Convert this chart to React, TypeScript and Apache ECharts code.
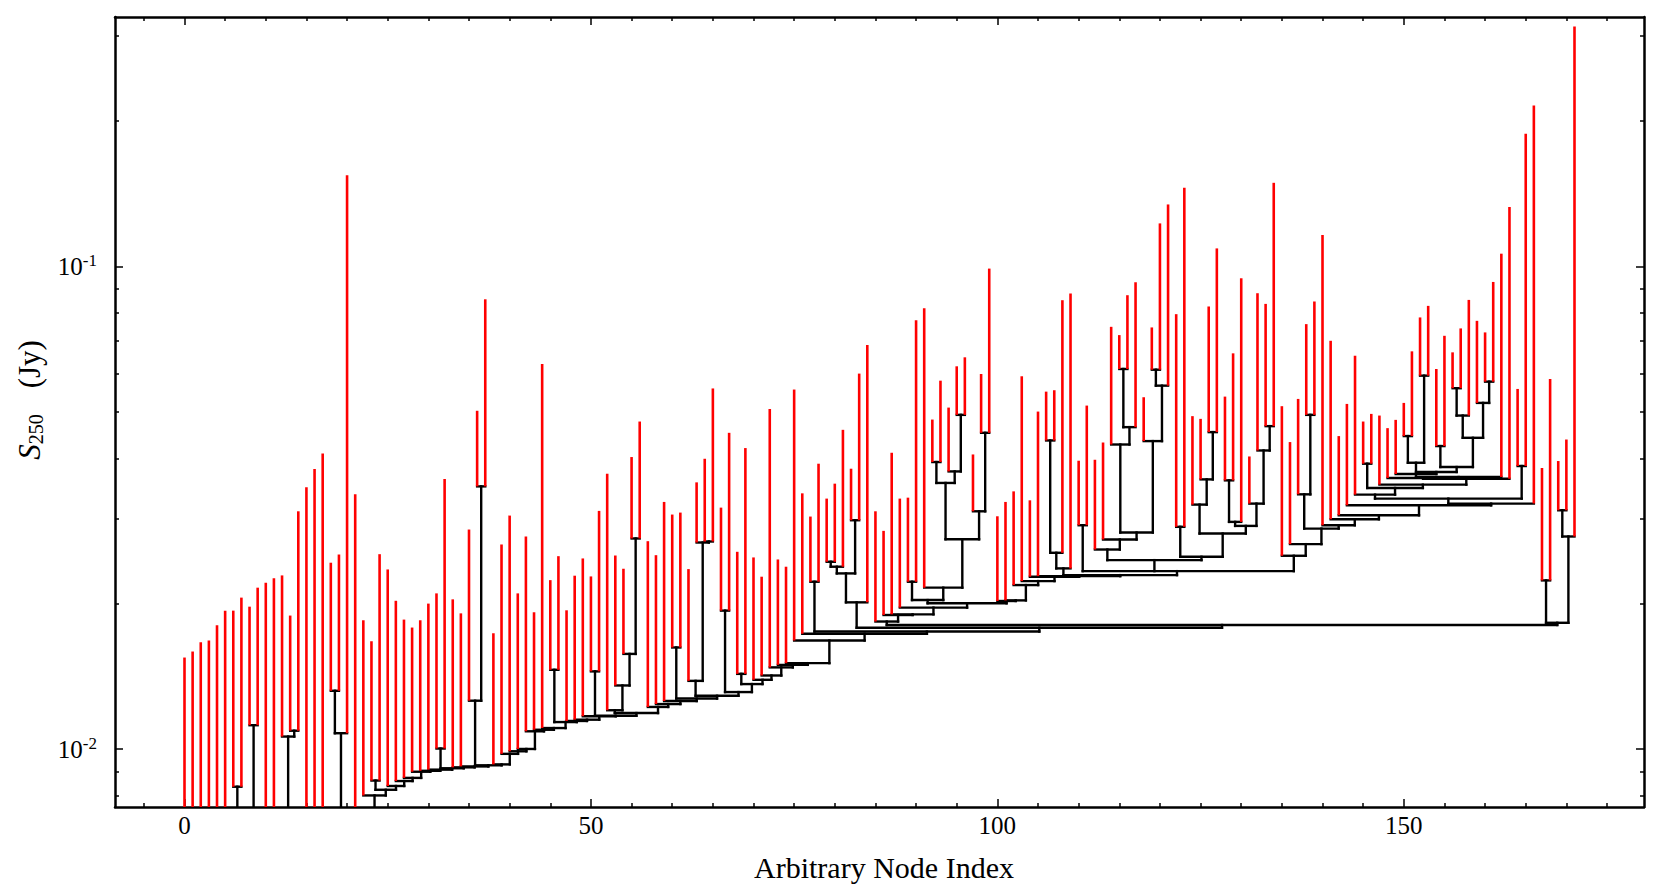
import React, { useEffect, useRef } from "react";
import * as echarts from "echarts";

// ---------- axes ----------
const X_MIN = -8.55;
const X_MAX = 179.55;
const Y_MIN = 0.00759;
const Y_MAX = 0.3283;
const TRUNK_BASE = 0.005; // trunks start below the visible range

const xMajorTicks = [0, 50, 100, 150];
const xMinorTicks = [-5, 5, 10, 15, 20, 25, 30, 35, 40, 45, 55, 60, 65, 70, 75, 80, 85, 90, 95, 105, 110, 115, 120, 125, 130, 135, 140, 145, 155, 160, 165, 170, 175];
const yMajorTicks = [0.01, 0.1];
const yMinorTicks = [0.008, 0.009, 0.02, 0.03, 0.04, 0.05, 0.06, 0.07, 0.08, 0.09, 0.2, 0.3];

// ---------- leaf peaks (Jy), leaf index = x position ----------
const leafPeaks = [
  0.01548, 0.01593, 0.01665, 0.01679, 0.01805, 0.01936, 0.01936, 0.0206, 0.01973, 0.0216,
  0.02212, 0.02258, 0.0229, 0.01891, 0.03109, 0.03485, 0.03803, 0.04096, 0.02433, 0.0253,
  0.1544, 0.03371, 0.01849, 0.01673, 0.02534, 0.02356, 0.02029, 0.01855, 0.01786, 0.01849,
  0.02002, 0.02102, 0.03627, 0.02043, 0.01911, 0.0285, 0.05021, 0.08544, 0.01738, 0.02654,
  0.03046, 0.02102, 0.02757, 0.01921, 0.06275, 0.02239, 0.0251, 0.01939, 0.02287, 0.02483,
  0.02279, 0.03115, 0.03719, 0.02518, 0.02364, 0.04027, 0.0477, 0.02696, 0.02522, 0.03251,
  0.03061, 0.0309, 0.0236, 0.03569, 0.03994, 0.05585, 0.03164, 0.0452, 0.02563, 0.04203,
  0.02495, 0.02276, 0.05066, 0.02471, 0.02387, 0.05556, 0.03387, 0.03032, 0.03901, 0.03303,
  0.03547, 0.04585, 0.03809, 0.05995, 0.06872, 0.03109, 0.02832, 0.0411, 0.03303, 0.03318,
  0.07736, 0.0819, 0.04815, 0.05796, 0.05098, 0.06207, 0.06479, 0.04077, 0.05984, 0.09891,
  0.03036, 0.03251, 0.03419, 0.05919, 0.03276, 0.05002, 0.05501, 0.05538, 0.08507, 0.08783,
  0.03957, 0.05147, 0.03975, 0.04316, 0.07493, 0.07203, 0.08712, 0.09267, 0.05356, 0.07471,
  0.1227, 0.1343, 0.07959, 0.1454, 0.04894, 0.04831, 0.08256, 0.1089, 0.05372, 0.06603,
  0.09445, 0.04038, 0.08795, 0.08359, 0.1489, 0.05132, 0.04325, 0.05313, 0.0759, 0.08455,
  0.1161, 0.0701, 0.0445, 0.05188, 0.06528, 0.0477, 0.04947, 0.04908, 0.04622, 0.04808,
  0.05213, 0.06666, 0.07836, 0.0828, 0.06128, 0.07179, 0.06634, 0.07436, 0.08519, 0.0771,
  0.07296, 0.09281, 0.1062, 0.1326, 0.05572, 0.1882, 0.2153, 0.03822, 0.05843, 0.03951,
  0.04378, 0.3137,
];

// ---------- tree structure: a branch is [mergeLevelJy, ...children], a leaf is its index ----------
type TreeNode = any;

const leftTrunks: TreeNode[] = [
  0, 1, 2, 3, 4, 5,
  [0.00836, 6, 7],
  [0.01121, 8, 9],
  10, 11,
  [0.01062, 12, [0.01092, 13, 14]],
  15, 16, 17,
  [0.01079, [0.01321, 18, 19], 20],
  21,
];

// main staircase (outer part): each element joins the rest at the given level
const spineJoins = [
  0.00802, 0.00824, 0.00839, 0.00859, 0.00872, 0.00898, 0.00902, 0.00907, 0.00913, 0.00917,
  0.00921, 0.00926, 0.0093, 0.00978, 0.0099, 0.01001, 0.01089, 0.01097, 0.01106, 0.01138,
  0.01144, 0.01151, 0.0117, 0.01173, 0.01188, 0.01223, 0.0124, 0.01258, 0.01273, 0.0129,
  0.01313, 0.01364, 0.01392, 0.01421, 0.01477, 0.01495, 0.01507,
];
const spineElems: TreeNode[] = [
  22, [0.00861, 23, 24], 25, 26, 27, 28, 29, 30, [0.01003, 31, 32], 33,
  34, [0.0126, 35, [0.03501, 36, 37]], 38, 39, 40, 41, 42, 43, 44, [0.0146, 45, 46],
  47, 48, 49, [0.01449, 50, 51], [0.01204, 52, [0.01355, 53, [0.01575, 54, [0.02731, 55, 56]]]], 57, 58, 59, [0.01624, 60, 61], [0.01385, 62, [0.02679, 63, [0.02692, 64, 65]]],
  [0.01936, 66, 67], [0.01432, 68, 69], 70, 71, 72, 73, 74,
];

// inner staircase
const innerJoins = [0.01679, 0.01734, 0.01752, 0.01784, 0.01808];

const sub82: TreeNode = [0.02014, [0.02312, [0.02387, [0.02444, 79, 80], 81], [0.02979, 82, 83]], 84];

const subT: TreeNode = [0.02721,
  [0.03559, [0.03932, 92, 93], [0.0376, 94, [0.04924, 95, 96]]],
  [0.03109, 97, [0.0452, 98, 99]]];

const subQ: TreeNode = [0.02591, 112, [0.02718, 113, [0.0281,
  [0.04275, 114, [0.04644, [0.06128, 115, 116], 117]],
  [0.04345, 118, [0.0566, [0.06107, 119, 120], 121]]]]];

const subW: TreeNode = [0.02503, [0.02887, 122, 123], [0.02796,
  [0.0321, 124, [0.0362, 125, [0.04535, 126, 127]]],
  [0.029, [0.02956, [0.03603, 128, 129], 130], [0.03225, 131, [0.04155, 132, [0.04666, 133, 134]]]]]];

const subY9: TreeNode = [0.0375,
  [0.03919, [0.0445, 150, 151], [0.05936, 152, 153]],
  [0.0384, [0.04243, 154, 155], [0.04414, [0.04908, [0.05591, 156, 157], 158], [0.05213, 159, [0.05769, 160, 161]]]]];
const subY7: TreeNode = [0.03661, [0.03714, 149, subY9], 162];
const subY5: TreeNode = [0.03632, [0.03644, 148, subY7], 163];
const subY2: TreeNode = [0.03366, 144, [0.03475, [0.03901, 145, 146], [0.0353, 147, subY5]]];
const subCC: TreeNode = [0.02993, 141, [0.0305, 142, [0.03199, 143,
  [0.03225, [0.03303, subY2, [0.03858, 164, 165]], 166]]]];

const subZ: TreeNode = [0.02515, 135, [0.02658, 136, [0.02863,
  [0.03371, 137, [0.04924, 138, 139]],
  [0.02909, 140, subCC]]]];

const ch102Joins = [0.02187, 0.02229, 0.02276, 0.02282, 0.02293];
const ch102Elems: TreeNode[] = [102, 103, 104, 105, [0.02368, [0.02551, [0.04358, 106, 107], 108], 109]];
const ch102Last: TreeNode = [0.02337, [0.02909, 110, 111], [0.02463, subQ, subW], subZ];

const rightGroup: TreeNode = [0.01827, [0.02236, 167, 168], [0.02757, [0.03124, 169, 170], 171]];

// ---------- builders ----------
function chain(joins: number[], elems: TreeNode[], last: TreeNode): TreeNode {
  let node = last;
  for (let k = elems.length - 1; k >= 0; k--) node = [joins[k], elems[k], node];
  return node;
}

function buildSegments() {
  const ch102 = chain(ch102Joins, ch102Elems, ch102Last);
  const sub86: TreeNode = [0.01838, 85, [0.01896, 86, [0.01902, 87, [0.01964, 88, [0.02005,
    [0.02036, [0.02222, 89, 90], [0.0216, 91, subT]],
    [0.02027, 100, [0.02033, 101, ch102]]]]]]];
  const inner = chain(innerJoins, [75, 76, [0.02222, 77, 78], sub82, sub86], rightGroup);
  const spine = chain(spineJoins, spineElems, inner);

  const red: number[][] = [];
  const black: number[][] = [];
  const layout = (node: TreeNode, parentLevel: number): number => {
    if (typeof node === "number") {
      red.push([node, parentLevel, node, leafPeaks[node]]);
      return node;
    }
    const level = node[0];
    const xs: number[] = node.slice(1).map((c: TreeNode) => layout(c, level));
    const x = xs.reduce((a, b) => a + b, 0) / xs.length;
    black.push([Math.min(...xs), level, Math.max(...xs), level]);
    black.push([x, parentLevel, x, level]);
    return x;
  };
  leftTrunks.forEach((t) => layout(t, TRUNK_BASE));
  layout(spine, TRUNK_BASE);
  return { red, black };
}

const FONT = "Liberation Serif";

function segRenderer(color: string, cap: string, width: number) {
  return (params: any, api: any) => {
    const a = api.coord([api.value(0), api.value(1)]);
    const b = api.coord([api.value(2), api.value(3)]);
    return {
      type: "line",
      shape: { x1: a[0], y1: a[1], x2: b[0], y2: b[1] },
      style: { stroke: color, lineWidth: width, lineCap: cap },
    };
  };
}

function xAxisDef(position: string, ticks: number[], len: number, showLine: boolean, labels: boolean) {
  return {
    type: "value",
    position,
    min: X_MIN,
    max: X_MAX,
    axisLine: { show: showLine, onZero: false, lineStyle: { color: "#000", width: 2.5 } },
    axisTick: { show: true, inside: true, length: len, customValues: ticks, lineStyle: { color: "#000", width: 1.5 } },
    axisLabel: labels
      ? { show: true, customValues: ticks, color: "#000", fontFamily: FONT, fontSize: 25, margin: 6 }
      : { show: false },
    splitLine: { show: false },
  };
}

function yAxisDef(position: string, ticks: number[], len: number, showLine: boolean, labels: boolean) {
  return {
    type: "log",
    logBase: 10,
    position,
    min: Y_MIN,
    max: Y_MAX,
    axisLine: { show: showLine, onZero: false, lineStyle: { color: "#000", width: 2.5 } },
    axisTick: { show: true, inside: true, length: len, customValues: ticks, lineStyle: { color: "#000", width: 1.5 } },
    axisLabel: labels
      ? {
          show: true,
          customValues: ticks,
          margin: 18,
          formatter: (v: number) => `{b|10}{s|${Math.round(Math.log10(v))}}`,
          rich: {
            b: { fontFamily: FONT, fontSize: 25, color: "#000", lineHeight: 28 },
            s: { fontFamily: FONT, fontSize: 17, color: "#000", lineHeight: 16, verticalAlign: "top" },
          },
        }
      : { show: false },
    splitLine: { show: false },
    minorTick: { show: false },
  };
}

export default function App() {
  const ref = useRef<HTMLDivElement>(null);
  useEffect(() => {
    if (!ref.current) return;
    const chart = echarts.init(ref.current, undefined, { renderer: "svg" });
    const { red, black } = buildSegments();
    chart.setOption({
      animation: false,
      backgroundColor: "#fff",
      grid: { left: 115, right: 17, top: 17, bottom: 87, containLabel: false, outerBoundsMode: "none" },
      xAxis: [
        xAxisDef("bottom", xMajorTicks, 8, true, true),
        xAxisDef("bottom", xMinorTicks, 4, false, false),
        xAxisDef("top", xMajorTicks, 8, true, false),
        xAxisDef("top", xMinorTicks, 4, false, false),
      ],
      yAxis: [
        yAxisDef("left", yMajorTicks, 8, true, true),
        yAxisDef("left", yMinorTicks, 4, false, false),
        yAxisDef("right", yMajorTicks, 8, true, false),
        yAxisDef("right", yMinorTicks, 4, false, false),
      ],
      series: [
        {
          type: "custom",
          name: "branches",
          coordinateSystem: "cartesian2d",
          xAxisIndex: 0,
          yAxisIndex: 0,
          clip: true,
          silent: true,
          z: 2,
          encode: { x: [0, 2], y: [1, 3] },
          data: black,
          renderItem: segRenderer("#000000", "square", 2.4),
        },
        {
          type: "custom",
          name: "leaves",
          coordinateSystem: "cartesian2d",
          xAxisIndex: 0,
          yAxisIndex: 0,
          clip: true,
          silent: true,
          z: 3,
          encode: { x: [0, 2], y: [1, 3] },
          data: red,
          renderItem: segRenderer("#ff0000", "butt", 2.6),
        },
      ],
      graphic: [
        {
          type: "text",
          x: 884,
          y: 867,
          style: {
            text: "Arbitrary Node Index",
            fontFamily: FONT,
            fontSize: 30,
            fill: "#000",
            align: "center",
            verticalAlign: "middle",
          },
        },
        {
          type: "text",
          x: 29,
          y: 400,
          rotation: Math.PI / 2,
          style: {
            text: "{i|S}{sub|250}{n|(Jy)}",
            align: "center",
            verticalAlign: "middle",
            rich: {
              i: { fontFamily: FONT, fontStyle: "italic", fontSize: 31, fill: "#000", lineHeight: 34 },
              sub: { fontFamily: FONT, fontSize: 20, fill: "#000", lineHeight: 20, verticalAlign: "bottom" },
              n: { fontFamily: FONT, fontSize: 31, fill: "#000", lineHeight: 34, padding: [0, 0, 0, 26] },
            },
          },
        },
      ],
    });
    return () => chart.dispose();
  }, []);
  return (
    <div
      ref={ref}
      style={{ position: "absolute", left: 0, top: 0, width: 1661, height: 894, background: "#fff" }}
    />
  );
}
